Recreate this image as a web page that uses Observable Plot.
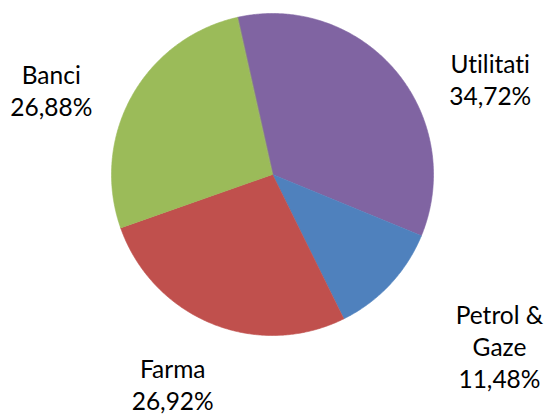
<!DOCTYPE html>
<html><head><meta charset="utf-8">
<script src="https://cdn.jsdelivr.net/npm/d3@7"></script>
<script src="https://cdn.jsdelivr.net/npm/@observablehq/plot@0.6"></script>
<style>body{margin:0;background:#fff} svg text{font-variant-ligatures:none;font-feature-settings:"liga" 0}</style>
</head><body><div id="chart"></div>
<script>
// ---- data ----
const categories = ["Utilitati", "Petrol & Gaze", "Farma", "Banci"];
const labelNames = ["Utilitati", "Petrol &\nGaze", "Farma", "Banci"];
const shares = [34.72, 11.48, 26.92, 26.88];
const colors = ["#8064A2", "#4F81BD", "#C0504D", "#9BBB59"];

// ---- layout ----
const W = 547, H = 416, cx = 272, cy = 174, R = 161;
const startDeg = -12.6;
// label placement: angle (deg, clockwise from top) and distance in radius units
const labelLayout = [
  {angle: 66.2, dist: 1.478},
  {angle: 127.0, dist: 1.765},
  {angle: 205.5, dist: 1.44},
  {angle: 291.0, dist: 1.472}
];

const rad = Math.PI / 180;
const arcs = d3.pie().sort(null).value(d => d)
  .startAngle(startDeg * rad).endAngle((startDeg + 360) * rad)(shares);

const pts = [];
arcs.forEach((a, i) => {
  const name = categories[i];
  pts.push({name, x: 0, y: 0});
  const n = Math.max(4, Math.ceil((a.endAngle - a.startAngle) / rad * 2));
  for (let k = 0; k <= n; k++) {
    const t = a.startAngle + (a.endAngle - a.startAngle) * k / n;
    pts.push({name, x: Math.sin(t), y: Math.cos(t)});
  }
});

const labels = categories.map((name, i) => {
  const L = labelLayout[i];
  return {
    name,
    text: labelNames[i] + "\n" + shares[i].toFixed(2).replace(".", ",") + "%",
    x: Math.sin(L.angle * rad) * L.dist,
    y: Math.cos(L.angle * rad) * L.dist
  };
});

const chart = Plot.plot({
  width: W, height: H, margin: 0,
  style: {fontFamily: "Lato, 'Open Sans', sans-serif", background: "#fff"},
  x: {domain: [-1, 1], range: [cx - R, cx + R], axis: null},
  y: {domain: [-1, 1], range: [cy + R, cy - R], axis: null},
  color: {domain: categories, range: colors},
  marks: [
    Plot.line(pts, {x: "x", y: "y", z: "name", fill: "name", stroke: "name", strokeWidth: 0.6, curve: "linear-closed"}),
    Plot.text(labels, {x: "x", y: "y", text: "text", fontSize: 24.5, lineHeight: 1.31, fill: "#000", textAnchor: "middle", lineAnchor: "middle"})
  ]
});
document.getElementById("chart").appendChild(chart);
</script>
</body></html>
